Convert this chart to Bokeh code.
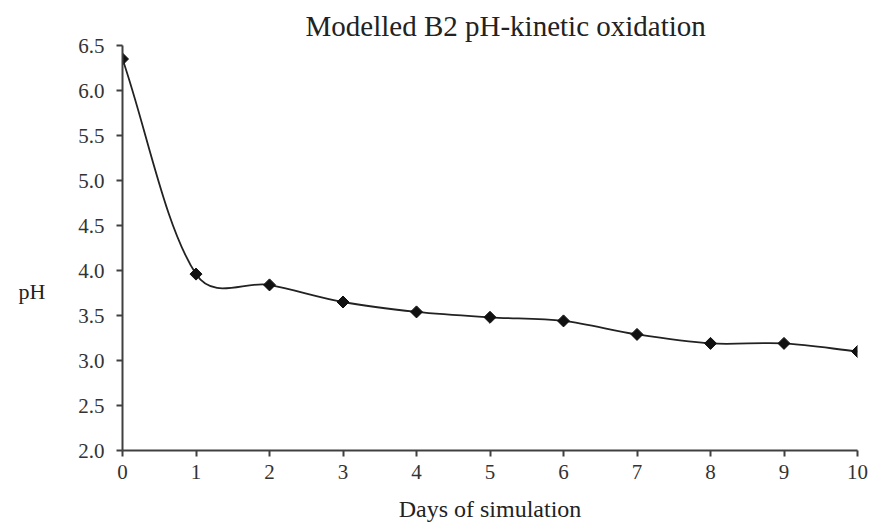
import math
from bokeh.plotting import figure
from bokeh.models import Range1d, FixedTicker, PrintfTickFormatter, Title, LinearAxis
from bokeh.embed import file_html
from bokeh.resources import INLINE

days = [0, 1, 2, 3, 4, 5, 6, 7, 8, 9, 10]
ph = [6.35, 3.96, 3.84, 3.65, 3.54, 3.48, 3.44, 3.29, 3.19, 3.19, 3.10]
y_ticks = [2.0, 2.5, 3.0, 3.5, 4.0, 4.5, 5.0, 5.5, 6.0, 6.5]
x_ticks = days
y_title = "pH"
x_title = "Days of simulation"
chart_title = "Modelled  B2 pH-kinetic  oxidation"

SERIF = "Liberation Serif"
AX = "#404040"

W, H = 876, 531
BL, BR, BT, BB = 122, 19, 45, 81
XMIN, XMAX, YMIN, YMAX = 0, 10, 2.0, 6.5

p = figure(width=W, height=H, output_backend="svg", toolbar_location=None,
           x_range=Range1d(XMIN, XMAX), y_range=Range1d(YMIN, YMAX),
           min_border_left=BL, min_border_right=BR, min_border_top=BT,
           min_border_bottom=BB)
p.outline_line_color = None
p.xgrid.visible = False
p.ygrid.visible = False

t = Title(text=chart_title, align="left", offset=183,
          text_font=SERIF, text_font_size="29px", text_font_style="normal",
          text_color="#222222", standoff=8)
p.add_layout(t, "above")

for ax in (p.xaxis[0], p.yaxis[0]):
    ax.axis_line_color = AX
    ax.axis_line_width = 2
    ax.major_tick_line_color = AX
    ax.major_tick_line_width = 2
    ax.major_tick_out = 6
    ax.major_tick_in = 0
    ax.minor_tick_line_color = None
    ax.major_label_text_font = SERIF
    ax.major_label_text_font_size = "21px"
    ax.major_label_text_color = "#333333"

p.xaxis.ticker = FixedTicker(ticks=x_ticks)
p.yaxis.ticker = FixedTicker(ticks=y_ticks)
p.yaxis.formatter = PrintfTickFormatter(format="%.1f")
p.yaxis.major_label_standoff = 12
p.xaxis.major_label_standoff = 8

p.xaxis.axis_label = x_title
p.xaxis.axis_label_text_font = SERIF
p.xaxis.axis_label_text_font_size = "24px"
p.xaxis.axis_label_text_font_style = "normal"
p.xaxis.axis_label_text_color = "#222222"
p.xaxis.axis_label_standoff = 14

# y-axis title drawn horizontally, beside the axis (as in the original)
ph_pos = 3.77
lab_axis = LinearAxis(ticker=FixedTicker(ticks=[ph_pos]),
                      major_label_overrides={ph_pos: y_title},
                      axis_line_color=None, major_tick_line_color=None,
                      minor_tick_line_color=None, major_tick_out=0,
                      major_tick_in=0, major_label_standoff=30,
                      major_label_text_font=SERIF,
                      major_label_text_font_size="22px",
                      major_label_text_color="#222222")
p.add_layout(lab_axis, "left")

# smoothed line: cubic Bezier segments with tangents weighted by screen distance
sx = (W - BL - BR) / (XMAX - XMIN)
sy = (H - BT - BB) / (YMAX - YMIN)
n = len(days)


def sdist(a, b):
    return math.hypot((days[b] - days[a]) * sx, (ph[b] - ph[a]) * sy) ** 0.5


cout = [None] * n
cin = [None] * n
for i in range(1, n - 1):
    vx = days[i + 1] - days[i - 1]
    vy = ph[i + 1] - ph[i - 1]
    da, db = sdist(i - 1, i), sdist(i, i + 1)
    fo = db / (da + db) / 3
    fi = da / (da + db) / 3
    cout[i] = (days[i] + vx * fo, ph[i] + vy * fo)
    cin[i] = (days[i] - vx * fi, ph[i] - vy * fi)
cout[0] = (days[0] + (days[1] - days[0]) / 3, ph[0] + (ph[1] - ph[0]) / 3)
cin[n - 1] = (days[n - 1] - (days[n - 1] - days[n - 2]) / 3,
              ph[n - 1] - (ph[n - 1] - ph[n - 2]) / 3)

x0, y0, x1, y1, cx0, cy0, cx1, cy1 = [], [], [], [], [], [], [], []
for i in range(n - 1):
    x0.append(days[i]); y0.append(ph[i])
    x1.append(days[i + 1]); y1.append(ph[i + 1])
    cx0.append(cout[i][0]); cy0.append(cout[i][1])
    cx1.append(cin[i + 1][0]); cy1.append(cin[i + 1][1])
p.bezier(x0=x0, y0=y0, x1=x1, y1=y1, cx0=cx0, cy0=cy0, cx1=cx1, cy1=cy1,
         line_color="#222222", line_width=1.8)

p.scatter(days, ph, marker="square", size=8.5, angle=math.pi / 4,
          fill_color="#111111", line_color="#111111")

open("out.html", "w").write(file_html(p, INLINE))
